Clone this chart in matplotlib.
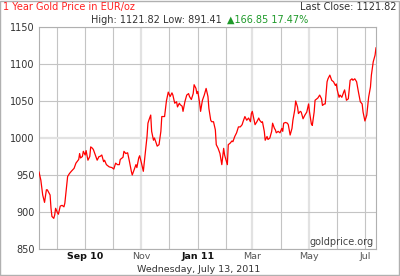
import matplotlib
matplotlib.use("Agg")
import matplotlib.pyplot as plt
import pandas as pd

# days after 2010-07-13 and EUR/oz price
days = [0, 2, 4, 6, 8, 9, 12, 13, 14, 16, 17, 18, 20, 21, 23, 25, 27, 28, 31, 33,
        35, 38, 40, 43, 44, 45, 47, 48, 50, 51, 53, 55, 56, 58, 59, 61, 63, 65, 66, 68,
        70, 71, 73, 76, 79, 81, 83, 85, 87, 88, 91, 92, 94, 96, 98, 100, 101, 103, 105, 106,
        108, 109, 111, 113, 115, 117, 118, 119, 121, 122, 124, 125, 127, 128, 130, 132, 133, 136, 138, 140,
        142, 144, 145, 147, 149, 150, 152, 153, 155, 156, 158, 160, 162, 163, 165, 167, 168, 170, 171, 172,
        174, 175, 177, 179, 181, 183, 184, 186, 187, 189, 191, 192, 194, 196, 198, 200, 201, 204, 205, 207,
        209, 210, 212, 214, 216, 218, 220, 221, 223, 225, 227, 229, 230, 231, 233, 234, 236, 238, 239, 241,
        242, 244, 245, 247, 248, 250, 252, 253, 255, 256, 257, 259, 261, 263, 264, 265, 267, 269, 270, 272,
        274, 275, 277, 278, 280, 281, 283, 284, 286, 288, 290, 292, 293, 295, 296, 298, 299, 301, 302, 304,
        306, 307, 309, 310, 312, 313, 315, 317, 319, 321, 322, 323, 325, 326, 328, 330, 331, 333, 335, 337,
        339, 340, 342, 344, 346, 348, 350, 351, 353, 355, 357, 359, 360, 362, 364, 365]
prices = [954, 943, 923, 913, 930, 930, 923, 905, 894, 891.41, 896, 905, 899, 897, 908, 909, 907, 912, 948, 952,
          955, 959, 966, 971, 979, 973, 975, 982, 977, 983, 970, 975, 988, 986, 984, 977, 970, 975, 975, 977,
          968, 970, 964, 961, 960, 958, 966, 964, 964, 971, 974, 982, 979, 980, 968, 955, 950, 957, 964, 960,
          973, 976, 966, 955, 979, 1002, 1020, 1024, 1031, 1009, 997, 1000, 993, 989, 991, 1009, 1029, 1029, 1050, 1062,
          1056, 1061, 1058, 1047, 1049, 1042, 1047, 1045, 1043, 1036, 1049, 1058, 1060, 1056, 1052, 1060, 1072, 1067, 1060, 1063,
          1047, 1036, 1051, 1058, 1067, 1056, 1040, 1024, 1022, 1022, 1011, 991, 986, 979, 964, 986, 977, 964, 991, 993,
          996, 995, 1002, 1007, 1015, 1015, 1018, 1022, 1029, 1024, 1027, 1022, 1033, 1036, 1024, 1018, 1022, 1027, 1024, 1021,
          1022, 1009, 997, 1002, 998, 1000, 1009, 1020, 1013, 1011, 1007, 1009, 1007, 1013, 1009, 1020, 1021, 1020, 1018, 1004,
          1013, 1024, 1038, 1050, 1042, 1033, 1036, 1035, 1026, 1031, 1035, 1046, 1035, 1019, 1017, 1035, 1051, 1053, 1054, 1058,
          1053, 1044, 1046, 1046, 1076, 1080, 1085, 1078, 1076, 1071, 1073, 1065, 1055, 1058, 1055, 1062, 1065, 1051, 1053, 1078,
          1080, 1078, 1080, 1076, 1062, 1049, 1046, 1035, 1023, 1031, 1055, 1069, 1085, 1103, 1112, 1121.82]

start = pd.Timestamp("2010-07-13")
end = pd.Timestamp("2011-07-13")
dates = start + pd.to_timedelta(days, unit="D")

month_starts = pd.date_range("2010-08-01", "2011-07-01", freq="MS")
month_labels = ["", "Sep 10", "", "Nov", "", "Jan 11", "", "Mar", "", "May", "", "Jul"]
y_ticks = [850, 900, 950, 1000, 1050, 1100, 1150]

W, H = 400, 276
fig = plt.figure(figsize=(W / 100, H / 100), dpi=100)
fig.patch.set_facecolor("white")


def fx(px):
    return px / W


def fy(py):
    return 1 - py / H


ax = fig.add_axes([fx(39), fy(249), fx(376) - fx(39), fy(27) - fy(249)])
ax.plot(dates, prices, color="#ff0000", lw=0.9, zorder=3)

ax.set_xlim(start, end)
ax.set_ylim(850, 1150)
ax.set_yticks(y_ticks)
ax.set_yticklabels([str(v) for v in y_ticks], fontsize=7, color="#333333")
ax.set_xticks(month_starts)
ax.set_xticklabels(month_labels, fontsize=6.8)
for lab in ax.get_xticklabels():
    if lab.get_text() in ("Sep 10", "Jan 11"):
        lab.set_fontweight("bold")
        lab.set_color("#111111")
    else:
        lab.set_color("#555555")
ax.tick_params(length=0, pad=3)
ax.tick_params(axis="x", pad=2)

ax.grid(True, color="#c4c4c4", lw=0.8)
for v, gl in zip(y_ticks, ax.get_ygridlines()):
    if v == 1000:
        gl.set_color("#e2e2e2")
        gl.set_linewidth(1.6)
for lab, gl in zip(month_labels, ax.get_xgridlines()):
    if lab in ("Nov", "Mar", "May"):
        gl.set_color("#e2e2e2")
        gl.set_linewidth(1.6)
for s in ax.spines.values():
    s.set_color("#b0b0b0")
    s.set_linewidth(0.8)

fig.text(fx(3), fy(7), "1 Year Gold Price in EUR/oz", color="#ff2020", fontsize=7, va="center", ha="left")
fig.text(fx(397), fy(7), "Last Close: 1121.82", color="#333333", fontsize=7, va="center", ha="right")
fig.text(fx(222), fy(20), "High: 1121.82 Low: 891.41", color="#333333", fontsize=7, va="center", ha="right")
fig.text(fx(227), fy(20), "\u25b2166.85 17.47%", color="#1f9a2a", fontsize=7, va="center", ha="left")
fig.text(fx(374), fy(242), "goldprice.org", color="#444444", fontsize=7, va="center", ha="right")
fig.text(fx(199), fy(270), "Wednesday, July 13, 2011", color="#333333", fontsize=6.8, va="center", ha="center")

fig.add_artist(plt.Rectangle((0.001, 0.002), 0.997, 0.995, transform=fig.transFigure,
                             fill=False, edgecolor="#b0b0b0", lw=1))

fig.savefig("out.png", dpi=100)
